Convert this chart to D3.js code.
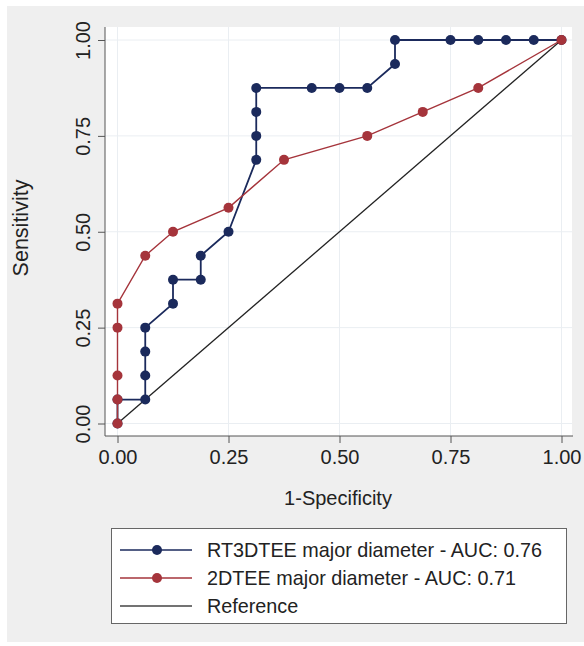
<!DOCTYPE html>
<html>
<head>
<meta charset="utf-8">
<script src="https://cdn.jsdelivr.net/npm/d3@7"></script>
<style>
  html, body { margin: 0; padding: 0; background: #fff; }
  svg { display: block; font-family: "Liberation Sans", Arial, sans-serif; }
</style>
</head>
<body>
<script>
// ROC points (1-specificity, sensitivity)
const rt3dFpr  = [0, 0, 0.0625, 0.0625, 0.0625, 0.0625, 0.125, 0.125, 0.1875, 0.1875, 0.25, 0.3125, 0.3125, 0.3125, 0.3125, 0.4375, 0.5, 0.5625, 0.625, 0.625, 0.75, 0.8125, 0.875, 0.9375, 1]
const rt3dTpr  = [0, 0.0625, 0.0625, 0.125, 0.1875, 0.25, 0.3125, 0.375, 0.375, 0.4375, 0.5, 0.6875, 0.75, 0.8125, 0.875, 0.875, 0.875, 0.875, 0.9375, 1, 1, 1, 1, 1, 1]
const tteFpr   = [0, 0, 0, 0, 0, 0.0625, 0.125, 0.25, 0.375, 0.5625, 0.6875, 0.8125, 1]
const tteTpr   = [0, 0.0625, 0.125, 0.25, 0.3125, 0.4375, 0.5, 0.5625, 0.6875, 0.75, 0.8125, 0.875, 1]
const ticks = [0, 0.25, 0.5, 0.75, 1]
const legendLabels = ["RT3DTEE major diameter - AUC: 0.76", "2DTEE major diameter - AUC: 0.71", "Reference"]

const W = 584, H = 646
const navy = "#1b2a5c", red = "#a5343b"

const x = d3.scaleLinear().domain([0, 1]).range([117.5, 561.5])
const y = d3.scaleLinear().domain([0, 1]).range([423.5, 40])

const svg = d3.select("body").append("svg")
    .attr("width", W).attr("height", H)

// outer grey panel
svg.append("rect").attr("x", 7).attr("y", 6).attr("width", W - 7).attr("height", 636)
    .attr("fill", "#efefef")

// plot region
svg.append("rect").attr("x", 105).attr("y", 27).attr("width", 467).attr("height", 409)
    .attr("fill", "#fff")

// grid
svg.append("g").selectAll("line").data(ticks).join("line")
    .attr("x1", d => x(d)).attr("x2", d => x(d))
    .attr("y1", 27).attr("y2", 436)
    .attr("stroke", "#eaeef2").attr("stroke-width", 1)
svg.append("g").selectAll("line").data(ticks).join("line")
    .attr("y1", d => y(d)).attr("y2", d => y(d))
    .attr("x1", 105).attr("x2", 572)
    .attr("stroke", "#eaeef2").attr("stroke-width", 1)

// axes
const xAxis = d3.axisBottom(x).tickValues(ticks).tickFormat(d3.format(".2f")).tickSize(7).tickSizeOuter(0)
const yAxis = d3.axisLeft(y).tickValues(ticks).tickFormat(d3.format(".2f")).tickSize(7).tickSizeOuter(0)

const gx = svg.append("g").attr("transform", "translate(0,436)").call(xAxis)
gx.select(".domain").attr("d", "M105,0H573").attr("stroke", "#555")
gx.selectAll(".tick line").attr("stroke", "#555")
gx.selectAll(".tick text").attr("font-size", 20).attr("fill", "#222")
    .attr("y", 0).attr("dy", 0).attr("transform", "translate(0,28)")

const gy = svg.append("g").attr("transform", "translate(105,0)").call(yAxis)
gy.select(".domain").attr("d", "M0,27V436").attr("stroke", "#555")
gy.selectAll(".tick line").attr("stroke", "#555")
gy.selectAll(".tick text")
    .attr("font-size", 20).attr("fill", "#222")
    .attr("x", 0).attr("dy", 0)
    .attr("text-anchor", "middle")
    .attr("transform", "translate(-15,0) rotate(-90)")

svg.selectAll(".tick text").style("font-family", "'Liberation Sans', Arial, sans-serif")

svg.append("text").attr("x", 338).attr("y", 505).attr("text-anchor", "middle")
    .attr("font-size", 20).attr("fill", "#222").text("1-Specificity")
svg.append("text").attr("transform", "translate(27.5,228) rotate(-90)").attr("text-anchor", "middle")
    .attr("font-size", 21.5).attr("fill", "#222").text("Sensitivity")

// reference diagonal
svg.append("line")
    .attr("x1", x(0)).attr("y1", y(0)).attr("x2", x(1)).attr("y2", y(1))
    .attr("stroke", "#222").attr("stroke-width", 1.3)

const line = d3.line().x(d => x(d[0])).y(d => y(d[1]))
const rt3d = rt3dFpr.map((v, i) => [v, rt3dTpr[i]])
const tte = tteFpr.map((v, i) => [v, tteTpr[i]])

svg.append("path").datum(rt3d).attr("d", line)
    .attr("fill", "none").attr("stroke", navy).attr("stroke-width", 1.8)
svg.append("g").selectAll("circle").data(rt3d).join("circle")
    .attr("cx", d => x(d[0])).attr("cy", d => y(d[1])).attr("r", 5).attr("fill", navy)

svg.append("path").datum(tte).attr("d", line)
    .attr("fill", "none").attr("stroke", red).attr("stroke-width", 1.4)
svg.append("g").selectAll("circle").data(tte).join("circle")
    .attr("cx", d => x(d[0])).attr("cy", d => y(d[1])).attr("r", 5).attr("fill", red)

// legend
const lg = svg.append("g")
lg.append("rect").attr("x", 111.5).attr("y", 528.5).attr("width", 455).attr("height", 95)
    .attr("fill", "#fff").attr("stroke", "#666").attr("stroke-width", 1)
const colors = [navy, red, "#444"]
const rowY = [550, 578, 606]
legendLabels.forEach((lab, i) => {
  lg.append("line").attr("x1", 120).attr("x2", 192).attr("y1", rowY[i]).attr("y2", rowY[i])
    .attr("stroke", colors[i]).attr("stroke-width", 1.5)
  if (i < 2) lg.append("circle").attr("cx", 157).attr("cy", rowY[i]).attr("r", 5).attr("fill", colors[i])
  lg.append("text").attr("x", 207).attr("y", rowY[i]).attr("dy", "0.36em")
    .attr("font-size", 19.8).attr("fill", "#222").text(lab)
})
</script>
</body>
</html>
